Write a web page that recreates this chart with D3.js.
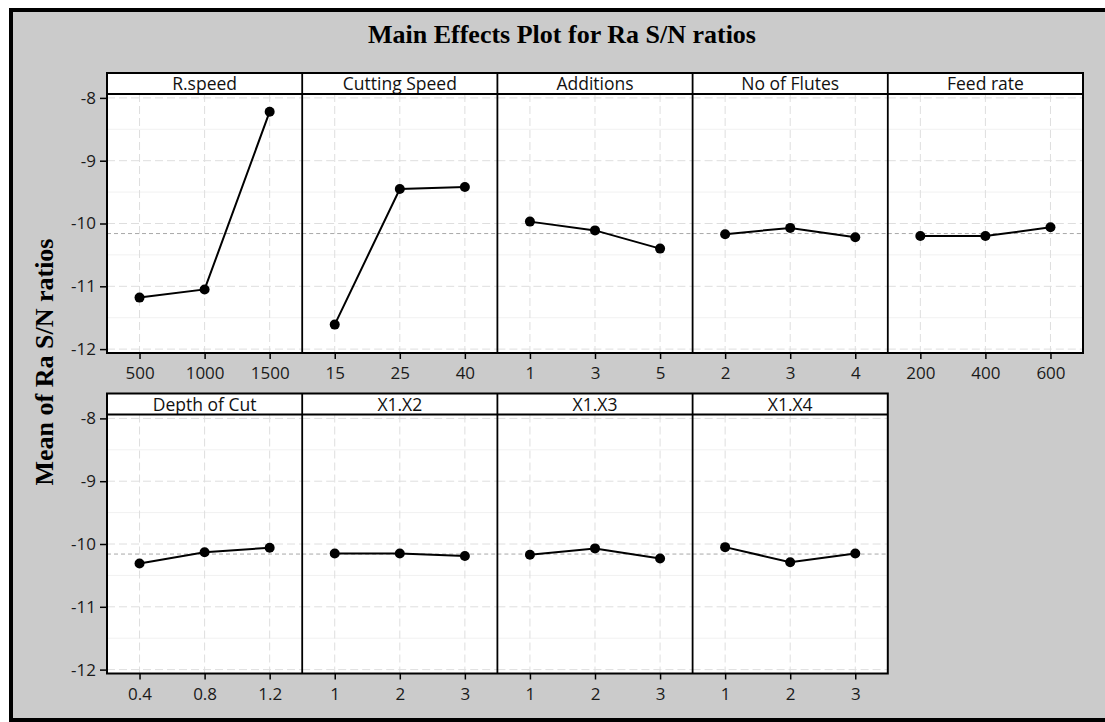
<!DOCTYPE html>
<html>
<head>
<meta charset="utf-8">
<script src="https://cdn.jsdelivr.net/npm/d3@7"></script>
<style>
  body { margin: 0; background: #ffffff; overflow: hidden; }
  svg { display: block; }
</style>
</head>
<body>
<svg id="chart"></svg>
<script>

// Données
const facteurs = ["R.speed", "Cutting Speed", "Additions", "No of Flutes", "Feed rate",
                  "Depth of Cut", "X1.X2", "X1.X3", "X1.X4"];
const niveaux = [
  ["500", "1000", "1500"],
  ["15", "25", "40"],
  ["1", "3", "5"],
  ["2", "3", "4"],
  ["200", "400", "600"],
  ["0.4", "0.8", "1.2"],
  ["1", "2", "3"],
  ["1", "2", "3"],
  ["1", "2", "3"]
];
const moyennes = [
  [-11.18, -11.05, -8.22],
  [-11.61, -9.45, -9.42],
  [-9.97, -10.11, -10.40],
  [-10.17, -10.07, -10.22],
  [-10.20, -10.20, -10.06],
  [-10.31, -10.13, -10.06],
  [-10.15, -10.15, -10.19],
  [-10.17, -10.07, -10.23],
  [-10.05, -10.29, -10.15]
];
const moyenneGlobale = -10.16;
const ticksY = [-8, -9, -10, -11, -12];
const ticksYmineurs = [-8.5, -9.5, -10.5, -11.5];

const titre = "Main Effects Plot for Ra S/N ratios";
const titreAxeY = "Mean of Ra S/N ratios";

// Mise en page
const w = 1105, h = 722;
const gauche = 107;
const largeurPanneau = 195.2;
const hauteurBandeau = 21;
const hauteurTrace = 259;
const hautsLignes = [73, 393.5];
const parLigne = 5;

const police = "'Open Sans', 'Noto Sans', sans-serif";
const policeTitre = "'Liberation Serif', 'DejaVu Serif', serif";

const svg = d3.select("#chart")
    .attr("width", w)
    .attr("height", h);

// Fond gris et cadre noir (pas de bord à droite)
svg.append("rect")
    .attr("x", 0).attr("y", 0)
    .attr("width", w).attr("height", h)
    .style("fill", "#ffffff");

svg.append("rect")
    .attr("x", 11).attr("y", 10)
    .attr("width", w - 11).attr("height", 710)
    .style("fill", "#cbcbcb");

svg.append("path")
    .attr("d", `M${w},10 H11 V720 H${w}`)
    .style("fill", "none")
    .style("stroke", "#000")
    .style("stroke-width", 4);

// Titre
svg.append("text")
    .attr("x", 562)
    .attr("y", 43)
    .attr("text-anchor", "middle")
    .style("font-family", policeTitre)
    .style("font-weight", "bold")
    .style("font-size", "26px")
    .style("fill", "#000")
    .text(titre);

// Titre axe Y
svg.append("text")
    .attr("transform", "translate(53,362) rotate(-90)")
    .attr("text-anchor", "middle")
    .style("font-family", policeTitre)
    .style("font-weight", "bold")
    .style("font-size", "26px")
    .style("fill", "#000")
    .text(titreAxeY);

// Echelle Y (même pour les deux lignes)
const y = d3.scaleLinear()
    .domain([-12.062, -7.938])
    .range([hauteurTrace, 0]);

let ligne = d3.line()
    .x(d => d.x)
    .y(d => y(d.v));

hautsLignes.forEach((haut, r) => {

  let indices = d3.range(r * parLigne, Math.min(facteurs.length, (r + 1) * parLigne));
  let nb = indices.length;
  let hautTrace = haut + hauteurBandeau;

  let gLigne = svg.append("g").attr("class", "ligne_" + r);

  // Fond blanc de la ligne
  gLigne.append("rect")
      .attr("x", gauche).attr("y", haut)
      .attr("width", nb * largeurPanneau)
      .attr("height", hauteurBandeau + hauteurTrace)
      .style("fill", "#fff");

  indices.forEach((k, i) => {
    let x0 = gauche + i * largeurPanneau;

    let x = d3.scalePoint()
        .domain(niveaux[k])
        .range([0, largeurPanneau])
        .padding(0.5);

    let g = gLigne.append("g")
        .attr("transform", `translate(${x0},${hautTrace})`);

    // grille mineure
    g.selectAll("line.mineur")
      .data(ticksYmineurs)
      .enter()
      .append("line")
      .attr("class", "mineur")
      .attr("x1", 0).attr("x2", largeurPanneau)
      .attr("y1", d => y(d)).attr("y2", d => y(d))
      .style("stroke", "#f1f1f1")
      .style("stroke-width", 1);

    // grille majeure
    g.selectAll("line.majeurY")
      .data(ticksY)
      .enter()
      .append("line")
      .attr("class", "majeurY")
      .attr("x1", 0).attr("x2", largeurPanneau)
      .attr("y1", d => y(d)).attr("y2", d => y(d))
      .style("stroke", "#dedede")
      .style("stroke-width", 1)
      .style("stroke-dasharray", "8,4");

    g.selectAll("line.majeurX")
      .data(niveaux[k])
      .enter()
      .append("line")
      .attr("class", "majeurX")
      .attr("x1", d => x(d)).attr("x2", d => x(d))
      .attr("y1", 0).attr("y2", hauteurTrace)
      .style("stroke", "#dedede")
      .style("stroke-width", 1)
      .style("stroke-dasharray", "8,4");

    // ligne de la moyenne
    g.append("line")
      .attr("x1", 0).attr("x2", largeurPanneau)
      .attr("y1", y(moyenneGlobale)).attr("y2", y(moyenneGlobale))
      .style("stroke", "#a8a8a8")
      .style("stroke-width", 1)
      .style("stroke-dasharray", "4,3");

    // courbe des moyennes
    let pts = moyennes[k].map((v, j) => ({x: x(niveaux[k][j]), v: v}));

    g.append("path")
      .datum(pts)
      .attr("d", ligne)
      .style("fill", "none")
      .style("stroke", "#000")
      .style("stroke-width", 2);

    g.selectAll("circle")
      .data(pts)
      .enter()
      .append("circle")
      .attr("cx", d => d.x)
      .attr("cy", d => y(d.v))
      .attr("r", 5)
      .style("fill", "#000");

    // axe X
    let axeX = g.append("g")
      .attr("transform", `translate(0,${hauteurTrace})`)
      .call(d3.axisBottom(x).tickSize(6).tickPadding(8));
    axeX.select(".domain").remove();
    axeX.selectAll("line").style("stroke", "#000").style("stroke-width", 1.5);
    axeX.selectAll("text")
      .style("font-family", police)
      .style("font-size", "17px")
      .style("fill", "#1a1a1a");

    // bandeau
    gLigne.append("text")
      .attr("x", x0 + largeurPanneau / 2)
      .attr("y", haut + 17)
      .attr("text-anchor", "middle")
      .style("font-family", police)
      .style("font-size", "17.5px")
      .style("fill", "#111")
      .text(facteurs[k]);

    // séparateur vertical
    if (i > 0) {
      gLigne.append("line")
        .attr("x1", x0).attr("x2", x0)
        .attr("y1", haut).attr("y2", hautTrace + hauteurTrace)
        .style("stroke", "#000")
        .style("stroke-width", 1.8);
    }
  });

  // trait sous le bandeau
  gLigne.append("line")
      .attr("x1", gauche).attr("x2", gauche + nb * largeurPanneau)
      .attr("y1", hautTrace).attr("y2", hautTrace)
      .style("stroke", "#000")
      .style("stroke-width", 2.2);

  // cadre
  gLigne.append("rect")
      .attr("x", gauche).attr("y", haut)
      .attr("width", nb * largeurPanneau)
      .attr("height", hauteurBandeau + hauteurTrace)
      .style("fill", "none")
      .style("stroke", "#000")
      .style("stroke-width", 2);

  // axe Y
  let axeY = gLigne.append("g")
      .attr("transform", `translate(${gauche},${hautTrace})`)
      .call(d3.axisLeft(y).tickValues(ticksY).tickSize(7).tickPadding(4)
            .tickFormat(d => String(d)));
  axeY.select(".domain").remove();
  axeY.selectAll("line").style("stroke", "#000").style("stroke-width", 1.5);
  axeY.selectAll("text")
      .style("font-family", police)
      .style("font-size", "17px")
      .style("fill", "#1a1a1a");
});

</script>
</body>
</html>
